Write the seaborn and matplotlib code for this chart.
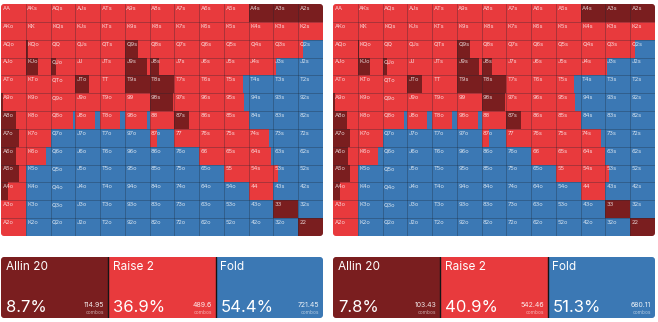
import numpy as np
import matplotlib
matplotlib.use("Agg")
import matplotlib.pyplot as plt
from matplotlib.patches import FancyBboxPatch
import seaborn as sns

sns.set_theme(style="white")
plt.rcParams['font.family'] = ['Inter', 'DejaVu Sans']

RANKS = list("AKQJT98765432")

# ---- left range: allin / raise frequencies per cell (row = first rank) ----
allin_L = [
    [0, 0, 0, 0, 0, 0, 0, 0, 0, 0, 1, 1, 1],
    [0, 0, 0, 0, 0, 0, 0, 0, 0, 0, 0, 0, 0],
    [0, 0.08, 0, 0, 0, 0.55, 0, 0, 0, 0, 0, 0, 0],
    [0, 0.5, 0.22, 0, 0, 0.88, 0.38, 0, 0, 0, 0, 0, 0],
    [0, 0, 0, 0.57, 0, 1, 1, 0, 0, 0, 0, 0, 0],
    [0.1, 0, 0, 0, 0, 0, 0.95, 0, 0, 0, 0, 0, 0],
    [0.6, 0, 0, 0, 0, 0, 0, 0.6, 0, 0, 0, 0, 0],
    [0.72, 0, 0, 0, 0, 0, 0, 0, 0, 0, 0, 0, 0],
    [0.62, 0, 0, 0, 0, 0, 0, 0, 0, 0, 0, 0, 0],
    [0.72, 0, 0, 0, 0, 0, 0, 0, 0, 0, 0, 0, 0],
    [0.28, 0, 0, 0, 0, 0, 0, 0, 0, 0, 0, 0, 0],
    [0, 0, 0, 0, 0, 0, 0, 0, 0, 0, 0, 1, 0],
    [0, 0, 0, 0, 0, 0, 0, 0, 0, 0, 0, 0, 1],
]
raise_L = [
    [1, 1, 1, 1, 1, 1, 1, 1, 1, 1, 0, 0, 0],
    [1, 1, 1, 1, 1, 1, 1, 1, 1, 1, 1, 1, 1],
    [1, 0.92, 1, 1, 1, 0.45, 1, 1, 1, 1, 1, 1, 0.2],
    [1, 0.5, 0.78, 1, 1, 0.12, 0.62, 1, 1, 1, 1, 0.1, 0],
    [1, 1, 1, 0.43, 1, 0, 0, 1, 1, 0.75, 0, 0, 0],
    [0.9, 1, 1, 1, 1, 1, 0.05, 1, 1, 0.8, 0, 0, 0],
    [0.4, 1, 0.92, 0.78, 0.8, 0.88, 1, 0.4, 1, 1, 0, 0, 0],
    [0.28, 1, 0, 0, 0, 0, 0.28, 1, 1, 1, 0.8, 0, 0],
    [0.38, 0.8, 0, 0, 0, 0, 0, 0, 1, 1, 0.92, 0, 0],
    [0.28, 0, 0, 0, 0, 0, 0, 0, 0, 1, 1, 0.18, 0],
    [0.72, 0, 0, 0, 0, 0, 0, 0, 0, 0, 1, 0, 0],
    [1, 0, 0, 0, 0, 0, 0, 0, 0, 0, 0, 0, 0],
    [1, 0, 0, 0, 0, 0, 0, 0, 0, 0, 0, 0, 0],
]

# ---- right range ----
allin_R = [
    [0, 0, 0, 0, 0, 0, 0, 0, 0, 0, 1, 1, 1],
    [0, 0, 0, 0, 0, 0, 0, 0, 0, 0, 0, 0, 0],
    [0, 0.06, 0, 0, 0, 0.55, 0, 0, 0, 0, 0, 0, 0],
    [0, 0.5, 0.2, 0, 0, 0.88, 0.4, 0, 0, 0, 0, 0, 0],
    [0, 0, 0, 0.6, 0, 1, 1, 0, 0, 0, 0, 0, 0],
    [0.08, 0, 0, 0, 0, 0, 0.95, 0, 0, 0, 0, 0, 0],
    [0.57, 0, 0, 0, 0, 0, 0, 0.6, 0, 0, 0, 0, 0],
    [0.7, 0, 0, 0, 0, 0, 0, 0, 0, 0, 0, 0, 0],
    [0.6, 0, 0, 0, 0, 0, 0, 0, 0, 0, 0, 0, 0],
    [0.7, 0, 0, 0, 0, 0, 0, 0, 0, 0, 0, 0, 0],
    [0.3, 0, 0, 0, 0, 0, 0, 0, 0, 0, 0, 0, 0],
    [0, 0, 0, 0, 0, 0, 0, 0, 0, 0, 0, 1, 0],
    [0, 0, 0, 0, 0, 0, 0, 0, 0, 0, 0, 0, 1],
]
raise_R = [
    [1, 1, 1, 1, 1, 1, 1, 1, 1, 1, 0, 0, 0],
    [1, 1, 1, 1, 1, 1, 1, 1, 1, 1, 1, 1, 1],
    [1, 0.94, 1, 1, 1, 0.45, 1, 1, 1, 1, 1, 1, 0.18],
    [1, 0.5, 0.8, 1, 1, 0.12, 0.6, 1, 1, 1, 1, 0.07, 0],
    [1, 1, 1, 0.4, 1, 0, 0, 1, 1, 0.75, 0, 0, 0],
    [0.92, 1, 1, 1, 1, 1, 0.05, 1, 1, 0.78, 0, 0, 0],
    [0.43, 1, 0.85, 0.78, 0.8, 0.85, 1, 0.4, 1, 1, 0, 0, 0],
    [0.3, 1, 0, 0, 0, 0, 0.3, 1, 1, 1, 0.8, 0, 0],
    [0.4, 0.8, 0, 0, 0, 0, 0, 0, 1, 1, 1, 0, 0],
    [0.3, 0, 0, 0, 0, 0, 0, 0, 0, 1, 1, 0.15, 0],
    [0.7, 0, 0, 0, 0, 0, 0, 0, 0, 0, 1, 0, 0],
    [1, 0, 0, 0, 0, 0, 0, 0, 0, 0, 0, 0, 0],
    [1, 0, 0, 0, 0, 0, 0, 0, 0, 0, 0, 0, 0],
]

# ---- summary bars ----
actions = ["Allin 20", "Raise 2", "Fold"]
pct_L = [8.7, 36.9, 54.4]
combos_L = [114.95, 489.6, 721.45]
pct_R = [7.8, 40.9, 51.3]
combos_R = [103.43, 542.46, 680.11]

DARK = "#7a1e1f"
RED = "#e83a3d"
BLUE = "#3b78b4"
COLORS = [DARK, RED, BLUE]

W, H = 658, 322
fig = plt.figure(figsize=(W / 100, H / 100), dpi=100)
fig.patch.set_facecolor("white")


def px_axes(x0, y0, x1, y1):
    return fig.add_axes([x0 / W, 1 - y1 / H, (x1 - x0) / W, (y1 - y0) / H])


def rounded_clip(ax, rad_px=3.0):
    bb = ax.get_position()
    wpx, hpx = bb.width * W, bb.height * H
    patch = FancyBboxPatch((0, 0), 1, 1, transform=ax.transAxes,
                           boxstyle=f"round,pad=0,rounding_size={rad_px / wpx}",
                           mutation_aspect=wpx / hpx,
                           facecolor="none", edgecolor="none")
    ax.add_patch(patch)
    return patch


def hand_label(r, c):
    if r == c:
        return RANKS[r] * 2
    if r < c:
        return RANKS[r] + RANKS[c] + "s"
    return RANKS[c] + RANKS[r] + "o"


def draw_grid(ax, allin, rais):
    a = np.array(allin, dtype=float)
    rz = np.array(rais, dtype=float)
    f = np.clip(1 - a - rz, 0, 1)
    cols = np.arange(13)
    clip = rounded_clip(ax)
    artists = []
    for r in range(13):
        y = np.full(13, r + 0.5)
        artists += list(ax.barh(y, a[r], left=cols, height=1.0, color=DARK, linewidth=0))
        artists += list(ax.barh(y, rz[r], left=cols + a[r], height=1.0, color=RED, linewidth=0))
        artists += list(ax.barh(y, f[r], left=cols + a[r] + rz[r], height=1.0, color=BLUE, linewidth=0))
    for k in range(1, 13):
        artists.append(ax.axvline(k, color="#1b2430", alpha=0.35, lw=0.6))
        artists.append(ax.axhline(k, color="#1b2430", alpha=0.35, lw=0.6))
    for art in artists:
        art.set_clip_path(clip)
    for r in range(13):
        for c in range(13):
            ax.text(c + 0.06, r + 0.24, hand_label(r, c), fontsize=4.2,
                    color="white", alpha=0.8, ha="left", va="center")
    ax.set_xlim(0, 13)
    ax.set_ylim(13, 0)
    ax.set_xticks([])
    ax.set_yticks([])
    for s in ax.spines.values():
        s.set_visible(False)


def draw_summary(ax, pct, combos):
    x = np.arange(3)
    clip = rounded_clip(ax)
    bars = ax.barh(np.zeros(3), np.ones(3), left=x, height=1.0, color=COLORS,
                   align="edge", linewidth=0)
    for b in bars:
        b.set_clip_path(clip)
    for k in (1, 2):
        ax.axvline(k, color="#151515", lw=1.0)
    for i in range(3):
        ax.text(i + 0.045, 0.83, actions[i], fontsize=8.5, color="white",
                ha="left", va="center")
        ax.text(i + 0.045, 0.17, f"{pct[i]:.1f}%", fontsize=12, color="white",
                ha="left", va="center")
        ax.text(i + 0.965, 0.21, f"{combos[i]:g}", fontsize=5, color="white",
                alpha=0.9, ha="right", va="center")
        ax.text(i + 0.965, 0.09, "combos", fontsize=3.5, color="white",
                alpha=0.6, ha="right", va="center")
    ax.set_xlim(0, 3)
    ax.set_ylim(0, 1)
    ax.set_xticks([])
    ax.set_yticks([])
    for s in ax.spines.values():
        s.set_visible(False)


axL = px_axes(1, 4, 323, 236)
draw_grid(axL, allin_L, raise_L)
axR = px_axes(333, 4, 655, 236)
draw_grid(axR, allin_R, raise_R)

sL = px_axes(1, 257, 323, 318)
draw_summary(sL, pct_L, combos_L)
sR = px_axes(333, 257, 655, 318)
draw_summary(sR, pct_R, combos_R)

fig.savefig("out.png", dpi=100, facecolor="white")
